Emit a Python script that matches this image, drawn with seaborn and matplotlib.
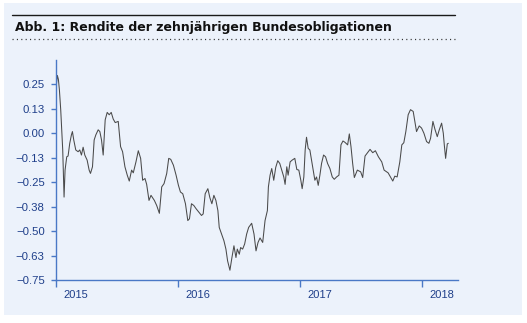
import matplotlib
matplotlib.use("Agg")
import matplotlib.pyplot as plt
from matplotlib.transforms import ScaledTranslation
from matplotlib.patches import Rectangle
from matplotlib.lines import Line2D
import seaborn as sns
import pandas as pd

title = "Abb. 1: Rendite der zehnjährigen Bundesobligationen"

dates = [
    "2015-01-02", "2015-01-06", "2015-01-09", "2015-01-12", "2015-01-16", "2015-01-19", "2015-01-22",
    "2015-01-26", "2015-01-29", "2015-02-03", "2015-02-07", "2015-02-12", "2015-02-17", "2015-02-20",
    "2015-02-24", "2015-03-02", "2015-03-09", "2015-03-14", "2015-03-19", "2015-03-24", "2015-03-29",
    "2015-04-05", "2015-04-11", "2015-04-15", "2015-04-21", "2015-04-26", "2015-05-01", "2015-05-08",
    "2015-05-13", "2015-05-18", "2015-05-23", "2015-05-26", "2015-05-29", "2015-06-04", "2015-06-10",
    "2015-06-16", "2015-06-22", "2015-06-28", "2015-07-07", "2015-07-14", "2015-07-20", "2015-07-27",
    "2015-08-03", "2015-08-09", "2015-08-16", "2015-08-21", "2015-08-29", "2015-09-05", "2015-09-12",
    "2015-09-18", "2015-09-25", "2015-09-30", "2015-10-07", "2015-10-13", "2015-10-23", "2015-10-30",
    "2015-11-07", "2015-11-14", "2015-11-21", "2015-11-29", "2015-12-05", "2015-12-11", "2015-12-19",
    "2015-12-27", "2016-01-03", "2016-01-09", "2016-01-16", "2016-01-24", "2016-01-31", "2016-02-05",
    "2016-02-11", "2016-02-18", "2016-02-25", "2016-03-04", "2016-03-12", "2016-03-17", "2016-03-23",
    "2016-03-31", "2016-04-06", "2016-04-12", "2016-04-18", "2016-04-24", "2016-04-30", "2016-05-04",
    "2016-05-11", "2016-05-18", "2016-05-24", "2016-05-29", "2016-06-05", "2016-06-11", "2016-06-17",
    "2016-06-23", "2016-06-27", "2016-07-03", "2016-07-07", "2016-07-13", "2016-07-19", "2016-07-25",
    "2016-07-31", "2016-08-09", "2016-08-16", "2016-08-22", "2016-08-28", "2016-09-03", "2016-09-11",
    "2016-09-18", "2016-09-25", "2016-09-28", "2016-10-03", "2016-10-08", "2016-10-14", "2016-10-20",
    "2016-10-26", "2016-11-01", "2016-11-07", "2016-11-13", "2016-11-17", "2016-11-22", "2016-11-26",
    "2016-12-02", "2016-12-08", "2016-12-16", "2016-12-22", "2016-12-28", "2017-01-03", "2017-01-07",
    "2017-01-12", "2017-01-16", "2017-01-20", "2017-01-25", "2017-01-30", "2017-02-04", "2017-02-09",
    "2017-02-14", "2017-02-19", "2017-02-24", "2017-03-01", "2017-03-06", "2017-03-12", "2017-03-18",
    "2017-03-24", "2017-03-31", "2017-04-07", "2017-04-13", "2017-04-20", "2017-04-27", "2017-05-03",
    "2017-05-09", "2017-05-15", "2017-05-23", "2017-05-28", "2017-06-02", "2017-06-07", "2017-06-12",
    "2017-06-21", "2017-07-01", "2017-07-07", "2017-07-14", "2017-07-29", "2017-08-06", "2017-08-14",
    "2017-08-23", "2017-09-02", "2017-09-09", "2017-09-21", "2017-10-05", "2017-10-11", "2017-10-18",
    "2017-10-26", "2017-11-01", "2017-11-07", "2017-11-13", "2017-11-20", "2017-11-27", "2017-12-05",
    "2017-12-10", "2017-12-15", "2017-12-23", "2017-12-30", "2018-01-06", "2018-01-14", "2018-01-21",
    "2018-01-26", "2018-02-02", "2018-02-08", "2018-02-15", "2018-02-21", "2018-02-28", "2018-03-05",
    "2018-03-08", "2018-03-12", "2018-03-17", "2018-03-20",
]

rendite = [
    0.233, 0.296, 0.276, 0.224, 0.121, 0.018, -0.085,
    -0.326, -0.188, -0.120, -0.116, -0.051, -0.008, 0.009,
    -0.034, -0.085, -0.094, -0.085, -0.111, -0.071, -0.111,
    -0.137, -0.188, -0.205, -0.171, -0.034, -0.008, 0.018,
    0.009, -0.034, -0.111, -0.017, 0.069, 0.107, 0.095,
    0.107, 0.073, 0.055, 0.061, -0.068, -0.094, -0.171,
    -0.214, -0.244, -0.188, -0.202, -0.146, -0.089, -0.128,
    -0.240, -0.231, -0.261, -0.343, -0.317, -0.343, -0.369,
    -0.409, -0.274, -0.257, -0.205, -0.128, -0.133, -0.163,
    -0.214, -0.266, -0.300, -0.309, -0.360, -0.446, -0.437,
    -0.360, -0.369, -0.386, -0.403, -0.420, -0.412, -0.309,
    -0.283, -0.329, -0.360, -0.317, -0.343, -0.395, -0.481,
    -0.515, -0.549, -0.592, -0.652, -0.700, -0.635, -0.575,
    -0.635, -0.592, -0.618, -0.584, -0.592, -0.566, -0.515,
    -0.481, -0.460, -0.515, -0.601, -0.558, -0.535, -0.558,
    -0.446, -0.395, -0.274, -0.214, -0.180, -0.240, -0.174,
    -0.140, -0.154, -0.188, -0.223, -0.261, -0.171, -0.214,
    -0.146, -0.137, -0.128, -0.185, -0.188, -0.240, -0.283,
    -0.223, -0.085, -0.020, -0.077, -0.085, -0.137, -0.188,
    -0.240, -0.223, -0.266, -0.214, -0.154, -0.111, -0.120,
    -0.154, -0.180, -0.223, -0.235, -0.223, -0.214, -0.059,
    -0.039, -0.046, -0.059, -0.003, -0.068, -0.154, -0.226,
    -0.188, -0.197, -0.226, -0.116, -0.082, -0.099, -0.089,
    -0.120, -0.146, -0.188, -0.202, -0.244, -0.219, -0.223,
    -0.146, -0.059, -0.048, 0.009, 0.095, 0.121, 0.112,
    0.061, 0.009, 0.038, 0.027, 0.001, -0.042, -0.051,
    -0.025, 0.061, 0.021, -0.017, 0.018, 0.052, 0.001,
    -0.059, -0.128, -0.054, -0.051,
]

year_ticks = ["2015-01-01", "2016-01-01", "2017-01-01", "2018-01-01"]
year_labels = ["2015", "2016", "2017", "2018"]
y_ticks = [0.25, 0.125, 0.0, -0.125, -0.25, -0.375, -0.5, -0.625, -0.75]
y_labels = ["0.25", "0.13", "0.00", "\u22120.13", "\u22120.25", "\u22120.38",
            "\u22120.50", "\u22120.63", "\u22120.75"]

df = pd.DataFrame({"Datum": pd.to_datetime(dates), "Rendite": rendite})

sns.set_style("white")
plt.rcParams["font.family"] = ["Liberation Sans", "DejaVu Sans"]

W, H = 527, 323
BG = "#ECF2FB"
AX_BLUE = "#4A78C6"
LBL_BLUE = "#1F3F8A"

fig = plt.figure(figsize=(W / 100, H / 100), dpi=100, facecolor="white")
fig.patches.append(Rectangle((4 / W, 1 - 315 / H), (522 - 4) / W, (315 - 3) / H,
                             transform=fig.transFigure, facecolor=BG, edgecolor="none", zorder=-10))

ax = fig.add_axes([55.7 / W, 1 - 280 / H, (458 - 55.7) / W, (280 - 60) / H])
ax.set_facecolor(BG)
ax.patch.set_alpha(0)

sns.lineplot(data=df, x="Datum", y="Rendite", ax=ax, color="#4a4a4a", linewidth=0.75)

ax.set_xlim(pd.Timestamp("2015-01-01"), pd.Timestamp("2018-04-18"))
ax.set_ylim(-0.75, 0.375)
ax.set_xlabel("")
ax.set_ylabel("")

for s in ["top", "right"]:
    ax.spines[s].set_visible(False)
for s in ["left", "bottom"]:
    ax.spines[s].set_color(AX_BLUE)
    ax.spines[s].set_linewidth(1.0)

ax.set_yticks(y_ticks)
ax.set_yticklabels(y_labels)
ax.set_xticks(pd.to_datetime(year_ticks))
ax.set_xticklabels(year_labels, ha="left")

ax.tick_params(axis="y", length=3.6, width=1.0, color=AX_BLUE, pad=4.3,
               labelsize=8.2, labelcolor=LBL_BLUE, left=True)
ax.tick_params(axis="x", length=5.0, width=1.0, color=AX_BLUE, pad=2.5,
               labelsize=8.0, labelcolor=LBL_BLUE, bottom=True)
offset = ScaledTranslation(0.075, 0, fig.dpi_scale_trans)
for lbl in ax.get_xticklabels():
    lbl.set_transform(lbl.get_transform() + offset)

# title block
fig.add_artist(Line2D([12 / W, 455 / W], [1 - 15 / H, 1 - 15 / H], transform=fig.transFigure,
                      color="#1a1a1a", linewidth=1.0))
fig.add_artist(Line2D([12 / W, 455 / W], [1 - 39.3 / H, 1 - 39.3 / H], transform=fig.transFigure,
                      color="#333333", linewidth=0.9, linestyle=(0, (0.9, 2.6))))
fig.text(15 / W, 1 - 27.5 / H, title, ha="left", va="center", fontsize=9.0,
         fontweight="bold", color="#111111", family=["DejaVu Sans"])

fig.savefig("out.png", dpi=100, facecolor="white")
